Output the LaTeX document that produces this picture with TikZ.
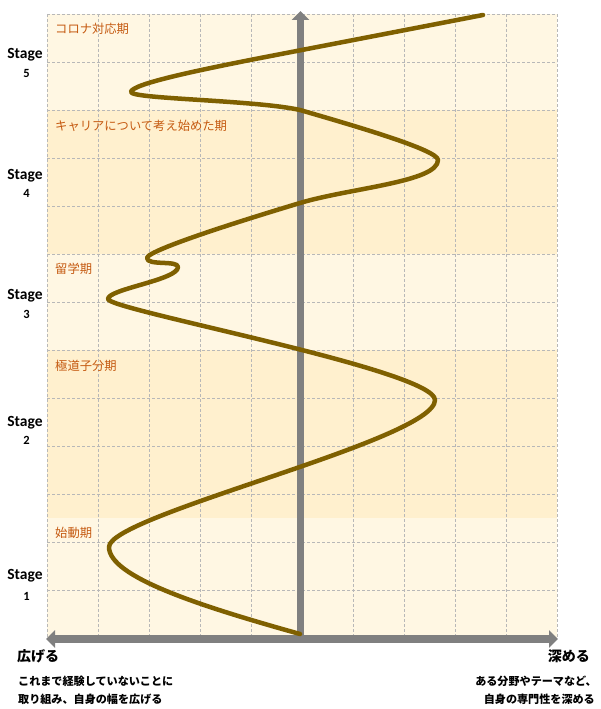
\documentclass[tikz,border=0pt]{standalone}
\usepackage{fontspec}
\setmainfont{Carlito}
\newfontfamily\jp{Noto Sans CJK JP}
\usetikzlibrary{arrows.meta}
\definecolor{bandA}{HTML}{FFF7E3}
\definecolor{bandB}{HTML}{FFF0CE}
\definecolor{curvec}{HTML}{7F6000}
\definecolor{labc}{HTML}{C55A11}
\definecolor{axisc}{HTML}{808080}
\definecolor{gridc}{HTML}{B8B8B8}
\tikzset{
  gridline/.style={draw=gridc, line width=0.55pt, dash pattern=on 3pt off 2pt},
  axisline/.style={draw=axisc, line width=7.5pt, -{Triangle[width=17pt,length=9pt]}},
  curveline/.style={draw=curvec, line width=4.5pt, line cap=round, line join=round},
  stagelbl/.style={font=\bfseries\fontsize{15.5}{16}\selectfont, inner sep=0pt},
  stagenum/.style={font=\bfseries\fontsize{12.5}{13}\selectfont, inner sep=0pt},
  periodlbl/.style={font=\jp\fontsize{12.3}{13}\selectfont, text=labc, anchor=west, inner sep=0pt},
  headlbl/.style={font=\jp\bfseries\fontsize{14}{15}\selectfont, inner sep=0pt},
  desclbl/.style={font=\jp\bfseries\fontsize{11.1}{12}\selectfont, inner sep=0pt},
}
\begin{document}
\begin{tikzpicture}[x=1pt,y=-1pt]
\useasboundingbox (0,0) rectangle (600,709);
% bands
\fill[bandA] (47,14) rectangle (557,110);
\fill[bandB] (47,110) rectangle (557,254);
\fill[bandA] (47,254) rectangle (557,350);
\fill[bandB] (47,350) rectangle (557,518);
\fill[bandA] (47,518) rectangle (557,639);
% grid
\foreach \x in {47,98,...,557} \draw[gridline] (\x,14) -- (\x,639);
\foreach \y in {14,62,...,590} \draw[gridline] (47,\y) -- (557,\y);
% axes
\coordinate (origin) at (300.5,639);
\coordinate (ytop) at (300.5,11);
\coordinate (xl) at (46,639);
\coordinate (xr) at (558,639);
\draw[axisline] (origin) -- (ytop);
\draw[axisline, {Triangle[width=17pt,length=9pt]}-{Triangle[width=17pt,length=9pt]}] (xl) -- (xr);
% curve
\draw[curveline] (300,634)
  .. controls (200,606) and (109,577) .. (109,547)
  .. controls (109,515) and (435,440) .. (435,400)
  .. controls (435,370) and (108,310) .. (108,299)
  .. controls (108,289) and (178,280) .. (178,267)
  .. controls (178,260) and (147,266) .. (147,258)
  .. controls (147,250) and (250,218) .. (300,203)
  .. controls (350,188) and (438,182) .. (438,160)
  .. controls (438,150) and (355,126) .. (300,110)
  .. controls (255,100) and (131,99) .. (131,92)
  .. controls (131,84) and (200,70) .. (250,60)
  -- (483,15);
% stage labels
\node[stagelbl] (s5) at (25,55) {Stage};
\node[stagenum] (n5) at (26.5,73) {5};
\node[stagelbl] (s4) at (25,176) {Stage};
\node[stagenum] (n4) at (26.5,193) {4};
\node[stagelbl] (s3) at (25,296) {Stage};
\node[stagenum] (n3) at (26.5,314) {3};
\node[stagelbl] (s2) at (25,423) {Stage};
\node[stagenum] (n2) at (26.5,440) {2};
\node[stagelbl] (s1) at (25,576) {Stage};
\node[stagenum] (n1) at (26.5,596) {1};
% period labels
\node[periodlbl] (p5) at (55,29) {コロナ対応期};
\node[periodlbl] (p4) at (55,126) {キャリアについて考え始めた期};
\node[periodlbl] (p3) at (55,269) {留学期};
\node[periodlbl] (p2) at (55,366) {極道子分期};
\node[periodlbl] (p1) at (55,533) {始動期};
% bottom texts
\node[headlbl, anchor=west] (hl) at (17,656) {広げる};
\node[desclbl, anchor=west] (dl1) at (18,681) {これまで経験していないことに};
\node[desclbl, anchor=west] (dl2) at (18,699) {取り組み、自身の幅を広げる};
\node[headlbl, anchor=east] (hr) at (590,656) {深める};
\node[desclbl, anchor=east] (dr1) at (597,681) {ある分野やテーマなど、};
\node[desclbl, anchor=east] (dr2) at (595,699) {自身の専門性を深める};
\end{tikzpicture}
\end{document}
